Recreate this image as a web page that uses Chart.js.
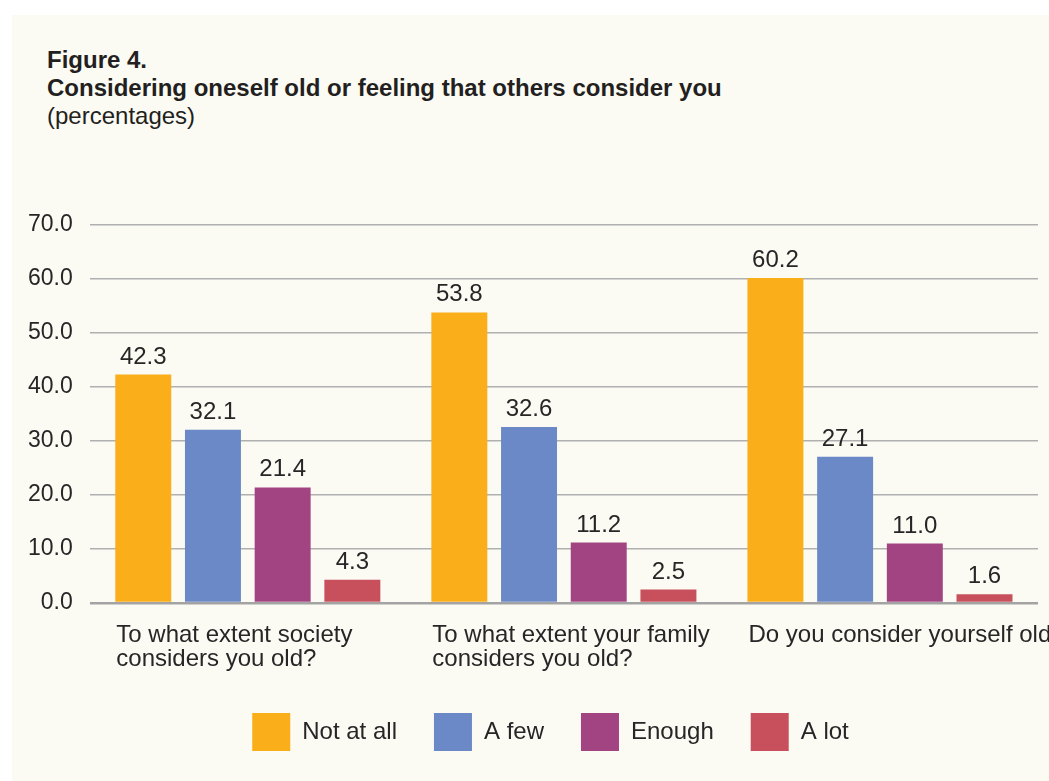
<!DOCTYPE html>
<html>
<head>
<meta charset="utf-8">
<script src="https://cdn.jsdelivr.net/npm/chart.js@4.4.1/dist/chart.umd.min.js"></script>
<style>
  html, body { margin: 0; padding: 0; background: #ffffff; overflow: hidden; width: 1049px; height: 781px; }
  #panel { position: absolute; left: 12px; top: 15px; width: 1100px; height: 800px; background: #fbfaf3; }
  #title { position: absolute; left: 47px; top: 46px; font-family: 'Liberation Sans', Arial, sans-serif; font-size: 24px; line-height: 28px; color: #231f20; white-space: nowrap; }
  #title b { font-weight: bold; }
  #wrap { position: absolute; left: 0; top: 190px; width: 1100px; height: 591px; }
</style>
</head>
<body>
<div id="panel"></div>
<div id="title"><b>Figure 4.</b><br><b>Considering oneself old or feeling that others consider you</b><br>(percentages)</div>
<div id="wrap"><canvas id="chart" width="1100" height="591"></canvas></div>
<script>
// chart data
const categories = [
    ["To what extent society", "considers you old?"],
    ["To what extent your family", "considers you old?"],
    ["Do you consider yourself old?"]
];
const seriesNames = ["Not at all", "A few", "Enough", "A lot"];
const notAtAll = [42.3, 53.8, 60.2];
const aFew = [32.1, 32.6, 27.1];
const enough = [21.4, 11.2, 11.0];
const aLot = [4.3, 2.5, 1.6];
const yTicks = [0, 10, 20, 30, 40, 50, 60, 70];

const colors = ["#f9ae1a", "#6b89c6", "#a34482", "#c8505c"];
const textColor = "#262626";
const font = "'Liberation Sans', Arial, sans-serif";

// values above the bars
const valueLabels = {
    id: "valueLabels",
    afterDatasetsDraw(chart) {
        const ctx = chart.ctx;
        ctx.save();
        ctx.font = "24px " + font;
        ctx.fillStyle = textColor;
        ctx.textAlign = "center";
        ctx.textBaseline = "alphabetic";
        chart.data.datasets.forEach((ds, i) => {
            chart.getDatasetMeta(i).data.forEach((bar, j) => {
                ctx.fillText(ds.data[j].toFixed(1), bar.x, bar.y - 11);
            });
        });
        ctx.restore();
    }
};

// category labels, left aligned with the first bar of each group
const categoryLabels = {
    id: "categoryLabels",
    afterDraw(chart) {
        const ctx = chart.ctx;
        const meta = chart.getDatasetMeta(0);
        const base = chart.scales.y.getPixelForValue(0);
        ctx.save();
        ctx.font = "24px " + font;
        ctx.fillStyle = textColor;
        ctx.textAlign = "left";
        ctx.textBaseline = "alphabetic";
        categories.forEach((lines, i) => {
            const bar = meta.data[i];
            const x = bar.x - bar.width / 2 + 1;
            lines.forEach((line, k) => {
                ctx.fillText(line, x, base + 39 + k * 24);
            });
        });
        ctx.restore();
    }
};

// nudge the legend a little to the right, as in the original
const legendShift = {
    id: "legendShift",
    afterLayout(chart) {
        chart.legend.left += 26;
        chart.legend.right += 26;
    }
};

new Chart(document.getElementById("chart"), {
    type: "bar",
    data: {
        labels: categories,
        datasets: [
            { label: seriesNames[0], data: notAtAll, backgroundColor: colors[0] },
            { label: seriesNames[1], data: aFew, backgroundColor: colors[1] },
            { label: seriesNames[2], data: enough, backgroundColor: colors[2] },
            { label: seriesNames[3], data: aLot, backgroundColor: colors[3] }
        ]
    },
    options: {
        responsive: false,
        animation: false,
        layout: { padding: { left: 11, right: 62, top: 35, bottom: 20 } },
        datasets: { bar: { categoryPercentage: 0.882, barPercentage: 0.803 } },
        scales: {
            x: {
                grid: { display: false },
                border: { display: false },
                ticks: { display: false },
                afterFit(scale) { scale.height = 73; }
            },
            y: {
                min: 0,
                max: 70,
                border: { display: false },
                afterBuildTicks(scale) { scale.ticks = yTicks.map(v => ({ value: v })); },
                grid: {
                    drawTicks: false,
                    color: ctx => ctx.tick && ctx.tick.value === 0 ? "#a3a3a3" : "#b0b0b0",
                    lineWidth: ctx => ctx.tick && ctx.tick.value === 0 ? 2.5 : 1.4
                },
                ticks: {
                    padding: 17,
                    color: textColor,
                    font: { family: font, size: 23 },
                    callback: v => v.toFixed(1)
                }
            }
        },
        plugins: {
            tooltip: { enabled: false },
            legend: {
                position: "bottom",
                labels: {
                    boxWidth: 38,
                    boxHeight: 38,
                    padding: 37,
                    color: textColor,
                    font: { family: font, size: 24 }
                }
            }
        }
    },
    plugins: [valueLabels, categoryLabels, legendShift]
});
</script>
</body>
</html>
